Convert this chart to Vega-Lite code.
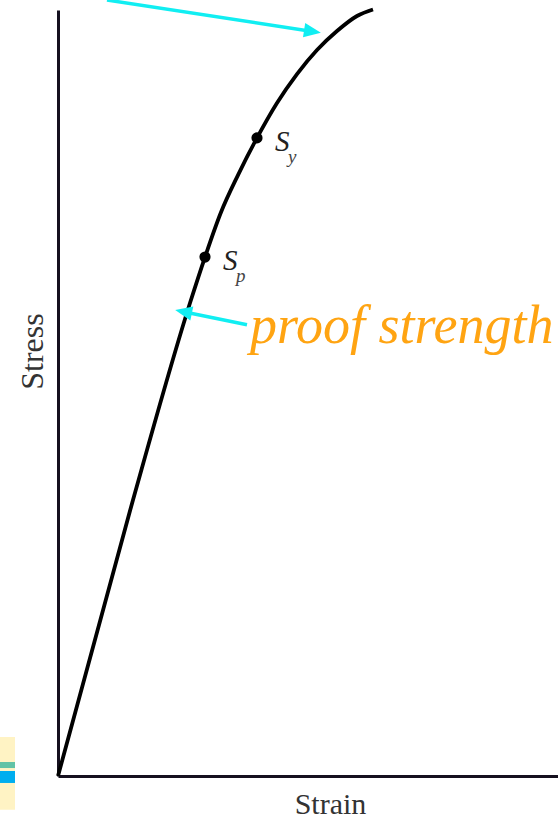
{
  "$schema": "https://vega.github.io/schema/vega-lite/v6.json",
  "width": 500,
  "height": 766,
  "autosize": "none",
  "padding": {"left": 58, "top": 10, "right": 0, "bottom": 42},
  "background": "white",
  "config": {"view": {"stroke": null}},
  "datasets": {
    "curve": [
      {"strain": 0, "stress": 0},
      {"strain": 14.6, "stress": 35.1},
      {"strain": 26.4, "stress": 61.75},
      {"strain": 29.4, "stress": 67.75},
      {"strain": 32.6, "stress": 73.6},
      {"strain": 36.0, "stress": 78.45},
      {"strain": 39.8, "stress": 83.3},
      {"strain": 43.8, "stress": 87.86},
      {"strain": 47.8, "stress": 91.64},
      {"strain": 51.8, "stress": 94.78},
      {"strain": 55.8, "stress": 97.26},
      {"strain": 59.8, "stress": 99.22},
      {"strain": 63.0, "stress": 100.07}
    ],
    "marks": [
      {"name": "S", "sub": "p", "strain": 29.4, "stress": 67.75},
      {"name": "S", "sub": "y", "strain": 39.8, "stress": 83.3}
    ],
    "arrows": [
      {"id": "upper", "x": 9.8, "y": 101.3, "x2": 50.9, "y2": 97.2},
      {"id": "proof", "x": 37.8, "y": 58.9, "x2": 25.1, "y2": 60.6}
    ],
    "notes": [
      {"text": "proof strength", "strain": 38.4, "stress": 56.5}
    ],
    "strip": [
      {"band": "base", "x": -11.6, "x2": -8.6, "y": 5.1, "y2": -4.4},
      {"band": "green", "x": -11.6, "x2": -8.6, "y": 1.83, "y2": 1.04},
      {"band": "blue", "x": -11.6, "x2": -8.6, "y": 0.65, "y2": -0.91}
    ]
  },
  "layer": [
    {
      "data": {"name": "strip"},
      "mark": {"type": "rect", "clip": false},
      "encoding": {
        "x": {"field": "x", "type": "quantitative", "scale": {"domain": [0, 100], "nice": false, "zero": false}},
        "x2": {"field": "x2"},
        "y": {"field": "y", "type": "quantitative", "scale": {"domain": [0, 100], "nice": false, "zero": false}},
        "y2": {"field": "y2"},
        "color": {
          "field": "band",
          "type": "nominal",
          "scale": {"domain": ["base", "green", "blue"], "range": ["#fff3c4", "#62c3a6", "#00aeef"]},
          "legend": null
        }
      }
    },
    {
      "data": {"name": "curve"},
      "mark": {"type": "line", "interpolate": "monotone", "color": "black", "strokeWidth": 3.8},
      "encoding": {
        "x": {
          "field": "strain",
          "type": "quantitative",
          "scale": {"domain": [0, 100], "nice": false, "zero": false},
          "axis": {
            "title": "Strain",
            "grid": false,
            "ticks": false,
            "labels": false,
            "domainColor": "#15101f",
            "domainWidth": 3,
            "titleFont": "Liberation Serif",
            "titleFontSize": 30,
            "titleFontWeight": "normal",
            "titleColor": "#333333",
            "titleX": 272,
            "titleY": 37,
            "titleAlign": "center",
            "titleBaseline": "alphabetic"
          }
        },
        "y": {
          "field": "stress",
          "type": "quantitative",
          "scale": {"domain": [0, 100], "nice": false, "zero": false},
          "axis": {
            "title": "Stress",
            "grid": false,
            "ticks": false,
            "labels": false,
            "domainColor": "#15101f",
            "domainWidth": 3,
            "titleFont": "Liberation Serif",
            "titleFontSize": 32,
            "titleFontWeight": "normal",
            "titleColor": "#333333",
            "titleAngle": -90,
            "titleX": -16,
            "titleY": 341,
            "titleAlign": "center",
            "titleBaseline": "alphabetic"
          }
        }
      }
    },
    {
      "data": {"name": "marks"},
      "mark": {"type": "point", "shape": "circle", "filled": true, "color": "black", "size": 125, "opacity": 1},
      "encoding": {
        "x": {"field": "strain", "type": "quantitative"},
        "y": {"field": "stress", "type": "quantitative"}
      }
    },
    {
      "data": {"name": "marks"},
      "mark": {"type": "text", "font": "Liberation Serif", "fontStyle": "italic", "fontSize": 29, "color": "#222222", "align": "left", "baseline": "alphabetic", "dx": 18, "dy": 13},
      "encoding": {
        "x": {"field": "strain", "type": "quantitative"},
        "y": {"field": "stress", "type": "quantitative"},
        "text": {"field": "name"}
      }
    },
    {
      "data": {"name": "marks"},
      "mark": {"type": "text", "font": "Liberation Serif", "fontStyle": "italic", "fontSize": 19, "color": "#444444", "align": "left", "baseline": "alphabetic", "dx": 31, "dy": 25},
      "encoding": {
        "x": {"field": "strain", "type": "quantitative"},
        "y": {"field": "stress", "type": "quantitative"},
        "text": {"field": "sub"}
      }
    },
    {
      "data": {"name": "arrows"},
      "mark": {"type": "rule", "color": "#11eef2", "strokeWidth": 3.5, "clip": false},
      "encoding": {
        "x": {"field": "x", "type": "quantitative"},
        "y": {"field": "y", "type": "quantitative"},
        "x2": {"field": "x2"},
        "y2": {"field": "y2"}
      }
    },
    {
      "data": {"name": "arrows"},
      "transform": [{"filter": "datum.id === 'upper'"}],
      "mark": {"type": "point", "shape": "M1,0L-1,-0.85L-1,0.85Z", "filled": true, "color": "#11eef2", "opacity": 1, "size": 289, "angle": 8.8},
      "encoding": {
        "x": {"field": "x2", "type": "quantitative"},
        "y": {"field": "y2", "type": "quantitative"}
      }
    },
    {
      "data": {"name": "arrows"},
      "transform": [{"filter": "datum.id === 'proof'"}],
      "mark": {"type": "point", "shape": "M1,0L-1,-0.85L-1,0.85Z", "filled": true, "color": "#11eef2", "opacity": 1, "size": 289, "angle": 191.8},
      "encoding": {
        "x": {"field": "x2", "type": "quantitative"},
        "y": {"field": "y2", "type": "quantitative"}
      }
    },
    {
      "data": {"name": "notes"},
      "mark": {"type": "text", "font": "Liberation Serif", "fontStyle": "italic", "fontSize": 54, "color": "#ffa412", "align": "left", "baseline": "alphabetic"},
      "encoding": {
        "x": {"field": "strain", "type": "quantitative"},
        "y": {"field": "stress", "type": "quantitative"},
        "text": {"field": "text"}
      }
    }
  ]
}
